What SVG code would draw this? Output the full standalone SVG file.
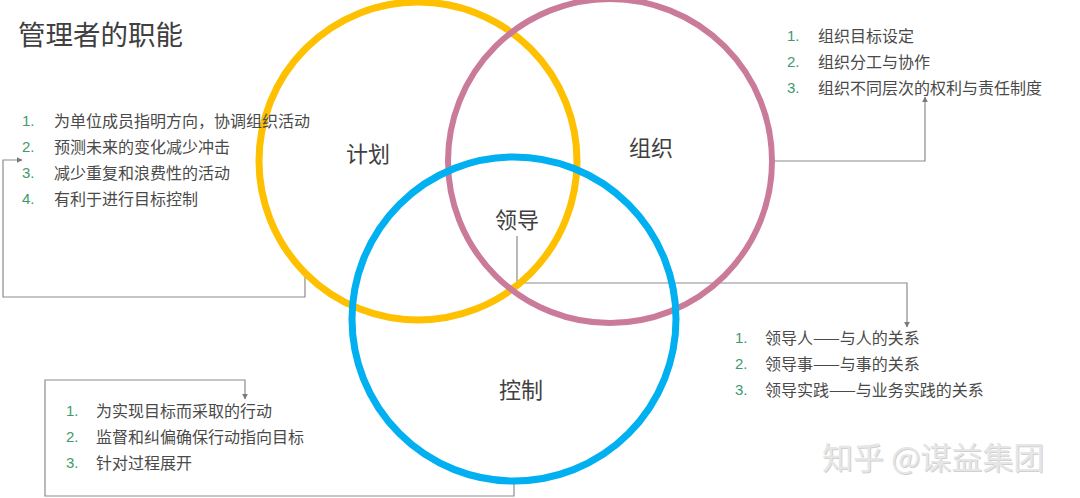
<svg xmlns="http://www.w3.org/2000/svg" width="1080" height="498" viewBox="0 0 1080 498">
<style>
.t{font-family:"Noto Sans CJK SC",sans-serif;fill:#404040}
.lbl{font-size:22px;text-anchor:middle;dominant-baseline:central}
.it{font-size:16px;dominant-baseline:central;fill:#4a4a4a}
.n{font-family:"Liberation Sans","Noto Sans",sans-serif;font-size:15px;fill:#3d9a6c;dominant-baseline:central}
.c{fill:none}
.cn{fill:none;stroke:#8c8c8c;stroke-width:1.2;marker-end:url(#ah)}
</style>
<defs>
<marker id="ah" viewBox="0 0 10 10" refX="9" refY="5" markerWidth="6" markerHeight="6" orient="auto" markerUnits="userSpaceOnUse">
<path d="M0,0 L10,5 L0,10 z" fill="#7a7a7a"/>
</marker>
</defs>
<rect width="1080" height="498" fill="#ffffff"/>
<text class="t" x="18" y="33" font-size="27.5" dominant-baseline="central">管理者的职能</text>
<g id="connectors">
<path class="cn" d="M305,273 V297 H3 V160 H22"/>
<path class="cn" d="M773,161 H925 V97"/>
<path class="cn" d="M517,236 V283 H907 V327"/>
<path class="cn" d="M514,481 V496 H45 V380 H245 V399"/>
</g>
<g id="plan">
<circle class="c" cx="418" cy="161" r="159" stroke="#FFC000" stroke-width="7"/>
<text class="t lbl" x="368" y="152">计划</text>
</g>
<g id="organize">
<circle class="c" cx="610" cy="161" r="162" stroke="#CB7B9A" stroke-width="6"/>
<text class="t lbl" x="651" y="146">组织</text>
</g>
<g id="control">
<circle class="c" cx="514" cy="319" r="162" stroke="#00B0F0" stroke-width="7"/>
<text class="t lbl" x="521" y="388">控制</text>
</g>
<g id="lead">
<text class="t lbl" x="517" y="218" font-size="20">领导</text>
</g>
<g id="plan-list">
<text class="n" x="22" y="120">1.</text><text class="t it" x="54" y="120">为单位成员指明方向，协调组织活动</text>
<text class="n" x="22" y="146">2.</text><text class="t it" x="54" y="146">预测未来的变化减少冲击</text>
<text class="n" x="22" y="172">3.</text><text class="t it" x="54" y="172">减少重复和浪费性的活动</text>
<text class="n" x="22" y="198">4.</text><text class="t it" x="54" y="198">有利于进行目标控制</text>
</g>
<g id="org-list">
<text class="n" x="787" y="35">1.</text><text class="t it" x="818" y="35">组织目标设定</text>
<text class="n" x="787" y="61">2.</text><text class="t it" x="818" y="61">组织分工与协作</text>
<text class="n" x="787" y="87">3.</text><text class="t it" x="818" y="87">组织不同层次的权利与责任制度</text>
</g>
<g id="lead-list">
<text class="n" x="735" y="337">1.</text><text class="t it" x="765" y="337">领导人——与人的关系</text>
<text class="n" x="735" y="363">2.</text><text class="t it" x="765" y="363">领导事——与事的关系</text>
<text class="n" x="735" y="389">3.</text><text class="t it" x="765" y="389">领导实践——与业务实践的关系</text>
</g>
<g id="control-list">
<text class="n" x="66" y="410">1.</text><text class="t it" x="96" y="410">为实现目标而采取的行动</text>
<text class="n" x="66" y="436">2.</text><text class="t it" x="96" y="436">监督和纠偏确保行动指向目标</text>
<text class="n" x="66" y="462">3.</text><text class="t it" x="96" y="462">针对过程展开</text>
</g>
<g id="watermark">
<text x="822" y="455" font-family="Noto Sans CJK SC,sans-serif" font-size="31" fill="#9a9a9a" dominant-baseline="central" opacity="0.45" transform="translate(1,1)">知乎 @谋益集团</text>
<text x="822" y="455" font-family="Noto Sans CJK SC,sans-serif" font-size="31" fill="#e6e6e6" dominant-baseline="central">知乎 @谋益集团</text>
</g>
</svg>
